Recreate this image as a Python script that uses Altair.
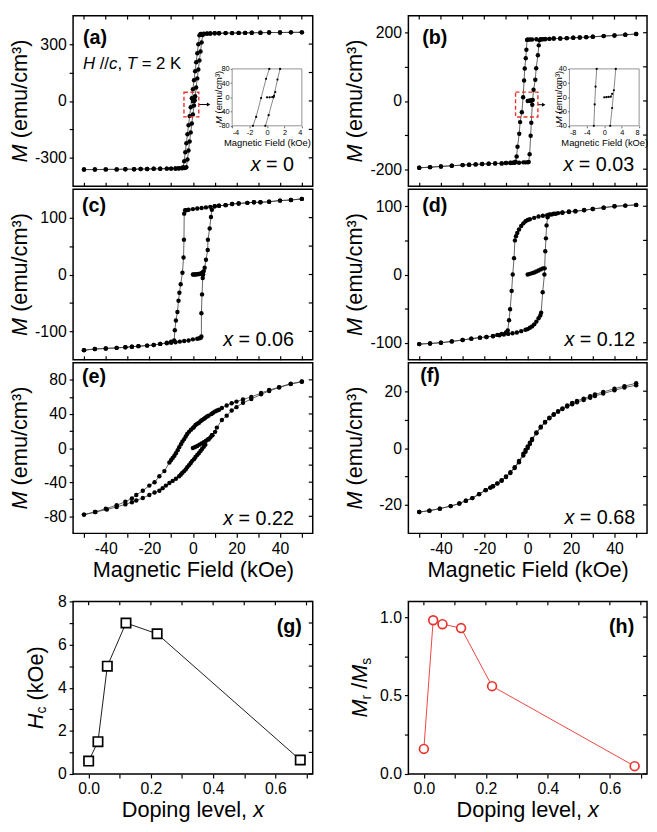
import altair as alt
import pandas as pd

FONT = "Liberation Sans"
BLACK = "#000000"
RED = "#e8322b"
LINE = "#3c3c3c"

# ---------------- (a) x = 0 ----------------
a_desc_H = [50, 45, 40, 35, 31, 27, 24, 21, 18, 15, 12, 10, 8, 6.5, 5, 4, 3.5, 3.0, 2.5, 2.0,
            1.5, 1.0, 0.5, 0.0, -0.5, -1.0, -1.5, -2.0, -2.5, -3.0, -3.5, -4.0, -4.5, -5, -6.5, -8,
            -10, -12, -15, -18, -21, -24, -27, -31, -35, -40, -45, -50]
a_desc_M = [362, 362, 361, 361, 360, 360, 359, 359, 358, 358, 357, 357, 356, 356, 355, 354, 353, 346, 299, 252,
            204, 157, 109, 62, 14, -33, -80, -128, -176, -223, -271, -318, -350, -354, -355, -356,
            -357, -357, -358, -358, -359, -359, -360, -360, -361, -361, -362, -362]
a_asc_H = [-50, -45, -40, -35, -31, -27, -24, -21, -18, -15, -12, -10, -8, -6.5, -5, -4, -3.5, -3.0, -2.5, -2.0,
           -1.5, -1.0, -0.5, 0.0, 0.5, 1.0, 1.5, 2.0, 2.5, 3.0, 3.5, 4.0, 4.5, 5, 6.5, 8,
           10, 12, 15, 18, 21, 24, 27, 31, 35, 40, 45, 50]
a_asc_M = [-362, -362, -361, -361, -360, -360, -359, -359, -358, -358, -357, -357, -356, -356, -355, -354, -353, -350, -309, -261,
           -214, -166, -119, -71, -24, 24, 71, 119, 166, 214, 261, 309, 348, 354, 355, 356,
           357, 357, 358, 358, 359, 359, 360, 360, 361, 361, 362, 362]
a_vir_H = [0, 0.2, 0.4, 0.6, 0.8, 1.0]
a_vir_M = [0, 0, 0.5, 1, 4, 24]
# inset (a)
ia_desc_H = [0.26, -0.11, -0.68, -1.25, -1.62]
ia_desc_M = [80, 52, -2, -55, -80]
ia_asc_H = [-0.19, 0.19, 0.75, 1.2, 1.5]
ia_asc_M = [-80, -50, 0, 50, 80]
ia_vir_H = [0, 0.3, 0.6, 0.8, 0.95]
ia_vir_M = [0, 0, 1, 4, 15]

# ---------------- (b) x = 0.03 ----------------
b_desc_H = [50, 45, 40, 35, 30, 27, 24, 21, 18, 15, 12, 10, 8, 6, 4, 2, 1, 0, -0.3, -0.6,
            -0.9, -1.36, -1.66, -2.1, -2.7, -3.5, -3.9, -4.7, -5.1, -5.6, -6, -7, -8, -10, -12, -15,
            -18, -21, -24, -27, -30, -35, -40, -45, -50]
b_desc_M = [196, 194, 192, 190, 188, 187, 186, 185, 184, 183, 183, 182, 182, 181, 181, 180, 180, 180, 179, 150,
            125, 95, 60, 11, -33, -62, -96, -134, -163, -178, -180, -181, -181, -182, -183, -183,
            -184, -185, -186, -187, -188, -190, -192, -194, -196]
b_asc_H = [-50, -45, -40, -35, -30, -27, -24, -21, -18, -15, -12, -10, -8, -6, -4, -2, -1, 0, 0.45, 0.9,
           1.36, 1.66, 2.1, 2.7, 3.5, 3.9, 4.7, 5.1, 5.4, 6, 7, 8, 10, 12, 15, 18,
           21, 24, 27, 30, 35, 40, 45, 50]
b_asc_M = [-196, -194, -192, -190, -188, -187, -186, -185, -184, -183, -183, -182, -182, -181, -181, -180, -180, -180, -179, -156,
           -102, -64, -11, 33, 62, 96, 134, 163, 178, 180, 181, 181, 182, 183, 183, 184,
           185, 186, 187, 188, 190, 192, 194, 196]
b_vir_H = [0, 0.4, 0.8, 1.2, 1.6, 2.0, 2.3]
b_vir_M = [0, 0.3, 0.6, 1, 1.5, 2, 3]
# inset (b)
ib_desc_H = [-1.74, -2.0, -2.2, -2.4]
ib_desc_M = [40, 15, -10, -40]
ib_asc_H = [1.36, 1.8, 2.2, 2.64]
ib_asc_M = [-40, -15, 10, 40]
ib_vir_H = [0, 0.5, 1.0, 1.5, 1.8]
ib_vir_M = [0, 0.3, 0.6, 1, 5]

# ---------------- (c) x = 0.06 ----------------
c_desc_H = [50, 45, 40, 35, 31, 28, 25, 21, 18, 15, 12, 10, 8, 6, 4, 2, 0, -2, -3, -3.6,
            -4.0, -4.1, -4.3, -4.8, -5.6, -6.2, -6.6, -7.1, -7.8, -8.3, -8.6, -10, -12, -15, -18, -21,
            -25, -28, -31, -35, -40, -45, -50]
c_desc_M = [133, 131, 130, 128, 127, 127, 126, 125, 124, 122, 121, 120, 119, 118, 117, 116, 115, 114, 113, 113,
            107, 61, 30, 3, -17, -32, -46, -66, -81, -98, -116, -118, -120, -122, -124, -125,
            -126, -127, -128, -129, -130, -131, -133]
c_asc_H = [-50, -45, -40, -35, -31, -28, -25, -21, -18, -15, -12, -10, -8, -6, -4, -2, 0, 2, 3, 3.6,
           3.9, 3.9, 4.2, 4.5, 4.7, 5.4, 6.0, 6.8, 6.9, 7.7, 8.3, 8.7, 10, 12, 15, 18,
           21, 25, 28, 31, 35, 40, 45, 50]
c_asc_M = [-133, -131, -130, -129, -128, -127, -126, -125, -124, -122, -121, -120, -119, -118, -117, -116, -114, -113, -112, -111,
           -109, -68, -35, -6, 0, 12, 26, 43, 61, 81, 101, 114, 120, 121, 122, 124,
           125, 126, 127, 127, 128, 130, 131, 133]
c_vir_H = [0, 0.5, 1, 1.5, 2, 2.5, 3, 3.5, 4, 4.5, 5.0]
c_vir_M = [0, 0, 0, 0.3, 0.5, 0.8, 1, 1.5, 2.5, 4, 6]

# ---------------- (d) x = 0.12 ----------------
d_desc_H = [50, 45, 40, 35, 30, 26, 22, 19, 16, 13, 11, 9, 7, 5, 3, 1, 0, -1, -2, -3,
            -4, -4.8, -5.4, -5.9, -6.3, -6.9, -7.4, -8.1, -8.6, -9.2, -10, -12, -14, -16, -19, -22,
            -26, -30, -35, -40, -45, -50]
d_desc_M = [102, 101, 100, 98, 96, 94, 92.5, 91.5, 90.5, 89, 88, 87, 86, 85, 83, 81, 80, 78, 75, 71,
            66, 61, 56, 50, 24, 0, -24, -51, -67, -82, -85, -87, -88.5, -90, -91.5, -92.5,
            -94, -96, -98, -100, -101, -102]
d_asc_H = [-50, -45, -40, -35, -30, -26, -22, -19, -16, -13, -11, -9, -7, -5, -3, -1, 0, 1, 2, 3,
           4, 5, 5.8, 6.2, 6.9, 7.7, 8.1, 8.4, 8.7, 9.2, 10, 12, 14, 16, 19, 22,
           26, 30, 35, 40, 45, 50]
d_asc_M = [-102, -101, -100, -98, -96, -94, -92.5, -91.5, -90.5, -89, -88, -87, -86, -85, -83, -81, -80, -78, -76, -73,
           -69, -64, -60, -56, -26, 0, 34, 53, 72, 84, 88, 89, 90, 91, 92.5, 93,
           94.5, 96, 98, 100, 101, 102]
d_vir_H = [0, 1, 2, 3, 4, 5, 6, 7, 7.8]
d_vir_M = [0, 1, 2, 3, 4.5, 6, 7.5, 9, 9]

# ---------------- (e) x = 0.22 ----------------
e_desc_H = [50, 44.9, 39.6, 35, 31.3, 26.8, 23, 20, 17.8, 15.5, 13.3, 12, 11.1, 10.2, 9.3, 8.5, 7.2, 6.5, 5.7, 5.0,
            4.2, 3.5, 2.7, 2.0, 1.2, 0.6, 0, -0.9, -1.8, -2.6, -3.3, -4.0, -4.8, -5.5, -6.3, -7.0,
            -7.8, -8.5, -9.3, -10.0, -10.8, -13.1, -15.4, -17.6, -20, -23, -26, -28, -31, -35, -40, -45, -50]
e_desc_M = [78, 75.5, 71.5, 68, 64.5, 60, 57, 54.5, 52.5, 50, 47, 45, 44, 43, 41.5, 40, 38, 37, 35.5, 34,
            33, 31.5, 29.5, 28.5, 27, 25, 23.5, 21.5, 19, 16.5, 13.5, 10.5, 7.7, 4.5, 1, -2.5,
            -6, -9, -11.5, -14, -17, -27, -33, -40, -44, -50, -55, -59, -63, -67, -71, -75, -78]
e_asc_H = [-50, -44.7, -39.5, -35, -31, -28, -26, -23, -20, -17.6, -15.4, -13.9, -12.4, -10.8, -9.3, -7.8, -6.3, -5.5, -4.8, -4.0,
           -3.3, -2.6, -1.8, -1.0, -0.3, 0.5, 1.2, 2.0, 2.7, 3.5, 4.2, 5.0, 5.7, 7.2, 8.7, 11,
           13.3, 15.5, 17.8, 20, 23, 26.8, 31.3, 35, 39.6, 44.9, 50]
e_asc_M = [-78, -75, -72, -69, -66, -63.5, -61.5, -58.5, -55, -52, -50, -47, -44, -41, -38.5, -36, -33, -31, -29, -27,
           -25, -22.5, -20, -17.5, -15, -13, -10.5, -8, -6, -3.5, -1, 1.5, 4, 10, 15, 24,
           33, 38, 44, 48, 53, 57.5, 63, 67, 71, 75, 77.7]
e_vir_H = [0, 1, 2, 3, 4, 5, 6, 7, 8, 9, 10.2]
e_vir_M = [0, 1.2, 2.5, 4, 5.5, 7, 8.7, 10.5, 12.5, 15, 19]

# ---------------- (f) x = 0.68 ----------------
f_desc_H = [50, 44.6, 40, 34.8, 31, 28.8, 25.8, 22.7, 20.5, 18.2, 16, 14, 12, 10, 8, 6, 4, 2, 1, 0,
            -1, -2, -4, -6, -8, -10, -12, -14, -16, -17.2, -19.4, -22.4, -25.5, -28.5, -31.5, -35.5,
            -40.5, -45.3, -50]
f_desc_M = [22.8, 21.8, 20.9, 19.7, 18.9, 18.2, 17.4, 16.6, 15.9, 15.0, 13.9, 13.0, 11.9, 10.7, 9.2, 7.5, 5.5, 3.2, 1.9, 0.6,
            -0.7, -2.0, -4.5, -6.7, -8.5, -10.0, -11.3, -12.4, -13.4, -13.9, -14.8, -16.2, -17.6, -18.5, -19.5, -20.4,
            -21.3, -22.0, -22.5]
f_asc_H = [-50, -45.3, -40.5, -35.5, -31.5, -28.5, -25.5, -22.4, -19.4, -17.2, -16, -14, -12, -10, -8, -6, -4, -2, -1, 0,
           1, 2, 4, 6, 8, 10, 12, 14, 16, 18.2, 20.5, 22.7, 25.8, 28.8, 31, 34.8, 40, 44.6, 50]
f_asc_M = [-22.5, -22.0, -21.3, -20.4, -19.5, -18.5, -17.6, -16.2, -14.8, -13.9, -13.4, -12.5, -11.5, -10.2, -8.8, -7.0, -5.0, -2.6, -1.3, 0.0,
           1.4, 2.8, 5.2, 7.2, 9.0, 10.5, 11.7, 12.8, 13.7, 14.6, 15.4, 16.1, 16.9, 17.7, 18.3, 19.2, 20.3, 21.3, 22.1]

# ---------------- (g), (h) ----------------
doping = [0.0, 0.03, 0.06, 0.12, 0.22, 0.68]
hc_koe = [0.6, 1.5, 5.0, 7.0, 6.5, 0.65]
mr_ms = [0.16, 0.98, 0.955, 0.93, 0.56, 0.05]

# ---------------- layout constants ----------------
WL, WR = 243, 242
HP, HB = 173, 175
CS = 29            # column spacing
GAP_BELOW_EF = 58  # room under panels (e)/(f) before (g)/(h)
TICK = 4

CW = {' ': 278, '(': 333, ')': 333, '/': 278, '.': 278, ',': 278, '=': 584, '-': 333,
      '\u00b3': 333, 'M': 833, 'H': 722, 'T': 611, 'K': 667, 'O': 778, 'D': 722,
      'a': 556, 'b': 556, 'c': 500, 'd': 556, 'e': 556, 'f': 278, 'g': 556, 'i': 222,
      'k': 500, 'l': 222, 'm': 833, 'n': 556, 'o': 556, 'p': 556, 'r': 333, 's': 500,
      't': 278, 'u': 556, 'v': 500, 'x': 500}


def tw(s, size):
    return sum(CW.get(ch, 556) for ch in s) * size / 1000.0


ONE = pd.DataFrame({"k": [0]})


def label(s, x, y, size, italic=False, bold=False, align="left", baseline="middle", angle=None, color=BLACK):
    kw = dict(text=s, font=FONT, fontSize=size, align=align, baseline=baseline, color=color)
    if italic:
        kw["fontStyle"] = "italic"
    if bold:
        kw["fontWeight"] = "bold"
    if angle is not None:
        kw["angle"] = angle
    return alt.Chart(ONE).mark_text(**kw).encode(x=alt.value(x), y=alt.value(y))


def run_h(parts, x0, y, baseline="middle"):
    out = []
    x = x0
    for s, size, it, dy in parts:
        lead = len(s) - len(s.lstrip(" "))
        x += lead * tw(" ", size)
        core = s.strip(" ")
        out.append(label(core, x, y + dy, size, italic=it, baseline=baseline))
        x += tw(core, size)
    return out


def run_width(parts):
    return sum(tw(p[0], p[1]) for p in parts)


def run_v(parts, xb, yc):
    y = yc + run_width(parts) / 2.0
    out = []
    for s, size, it, dx in parts:
        lead = len(s) - len(s.lstrip(" "))
        y -= lead * tw(" ", size)
        core = s.strip(" ")
        out.append(label(core, xb + dx, y, size, italic=it, baseline="alphabetic", angle=270))
        y -= tw(core, size)
    return out


def num_expr(step):
    return ("datum.value % " + str(step) + " == 0 ? (datum.value < 0 ? '-' : '') + abs(datum.value) : ''")


def frame_df(branches):
    rows = []
    for name, hs, ms in branches:
        for i, (h, m) in enumerate(zip(hs, ms)):
            rows.append({"H": h, "M": m, "b": name, "i": i})
    return pd.DataFrame(rows)


def mirror_ticks(xfield, yfield, xs, ys, xax, yax, xvals, yvals, width, top=True):
    """Inward ticks on the right (and top) edge, placed through the panel scales."""
    out = [alt.Chart(pd.DataFrame({yfield: yvals})).mark_rule(color=BLACK, strokeWidth=1.2).encode(
        y=alt.Y(yfield + ":Q", scale=ys, axis=yax), x=alt.value(width - TICK), x2=alt.value(width))]
    if top:
        out.append(alt.Chart(pd.DataFrame({xfield: xvals})).mark_rule(color=BLACK, strokeWidth=1.2).encode(
            x=alt.X(xfield + ":Q", scale=xs, axis=xax), y=alt.value(0), y2=alt.value(TICK)))
    return out


XV = list(range(-50, 51, 10))
YT_MAIN = [("M", 22, True, 0), (" (emu/cm\u00b3)", 22, False, 0)]


def inset(branches, xdom, ydom, xvals, yvals, xr, yr, title_x):
    df = frame_df(branches)
    xs = alt.Scale(domain=xdom, range=xr, nice=False, zero=False)
    ys = alt.Scale(domain=ydom, range=yr, nice=False, zero=False)
    xax = alt.Axis(orient="bottom", offset=yr[0] - HP, values=xvals, tickSize=2, tickWidth=0.6,
                   labelFontSize=7.5, labelPadding=1, domain=False, minExtent=0,
                   labelExpr="(datum.value < 0 ? '-' : '') + abs(datum.value)",
                   title="Magnetic Field (kOe)", titleFontSize=9.5, titleFontWeight="normal", titlePadding=1)
    yax = alt.Axis(orient="left", offset=-xr[0], values=yvals, tickSize=2, tickWidth=0.6,
                   labelFontSize=7.5, labelPadding=1, domain=False, minExtent=0,
                   labelExpr="(datum.value < 0 ? '-' : '') + abs(datum.value)", title=None)
    box = pd.DataFrame({"x0": [xdom[0]], "x1": [xdom[1]], "y0": [ydom[0]], "y1": [ydom[1]]})
    rect = alt.Chart(box).mark_rect(fill="white", stroke="#777777", strokeWidth=0.8).encode(
        x=alt.X("x0:Q", scale=xs, axis=xax), x2="x1:Q",
        y=alt.Y("y0:Q", scale=ys, axis=yax), y2="y1:Q")
    x = alt.X("H:Q", scale=xs, axis=xax)
    y = alt.Y("M:Q", scale=ys, axis=yax)
    lines = alt.Chart(df).mark_line(color="#555555", strokeWidth=0.7).encode(x=x, y=y, detail="b:N", order="i:Q")
    pts = alt.Chart(df).mark_circle(size=5, color=BLACK, opacity=1).encode(x=x, y=y)
    title = run_v([("M", 9.5, True, 0), (" (emu/cm\u00b3)", 9.5, False, 0)], title_x, (yr[0] + yr[1]) / 2.0)
    return alt.layer(rect, lines, pts, *title)


def loop_panel(branches, ydom, yvals, ystep, width, bottom, tag, tag_xy, xval, xval_xy,
               top_ticks=False, extras=None, inset_chart=None, notes=None):
    df = frame_df(branches)
    xs = alt.Scale(domain=[-55, 55], nice=False, zero=False)
    ys = alt.Scale(domain=ydom, nice=False, zero=False)
    if bottom:
        xax = alt.Axis(orient="bottom", values=XV, labelExpr=num_expr(20), tickSize=TICK, labelPadding=3,
                       domain=False, title="Magnetic Field (kOe)", titleFontSize=22,
                       titleFontWeight="normal", titlePadding=4, labelFontSize=16)
    else:
        xax = alt.Axis(orient="bottom", values=XV, labels=False, tickSize=TICK, offset=-TICK, domain=False,
                       title=None, minExtent=0)
    yax = alt.Axis(orient="left", values=yvals, labelExpr=num_expr(ystep), tickSize=TICK, labelPadding=3,
                   domain=False, title=None, labelFontSize=16)
    x = alt.X("H:Q", scale=xs, axis=xax)
    y = alt.Y("M:Q", scale=ys, axis=yax)
    base = alt.Chart(df)
    lines = base.mark_line(color=LINE, strokeWidth=0.8).encode(x=x, y=y, detail="b:N", order="i:Q")
    pts = base.mark_circle(size=20, color=BLACK, opacity=1).encode(x=x, y=y)
    layers = [lines, pts]
    layers += mirror_ticks("H", "M", xs, ys, xax, yax, XV, yvals, width, top=top_ticks)
    if extras:
        for ex in extras:
            layers.append(ex(xs, ys, xax, yax))
    layers.append(label(tag, tag_xy[0], tag_xy[1], 20, bold=True))
    xparts = [("x", 20, True, 0), (" = " + xval, 20, False, 0)]
    layers += run_h(xparts, xval_xy[0] - run_width(xparts), xval_xy[1])
    layers += run_v(YT_MAIN, -47, HP / 2.0)
    if notes:
        layers += notes
    if bottom:
        # invisible 1px rule that reserves room between this row and the (g)/(h) row
        layers.append(alt.Chart(ONE).mark_rule(color="white", strokeWidth=1).encode(
            x=alt.value(1), y=alt.value(HP + GAP_BELOW_EF - 1), y2=alt.value(HP + GAP_BELOW_EF)))
    main = alt.layer(*layers)
    if inset_chart is not None:
        return alt.layer(main, inset_chart).resolve_scale(x="independent", y="independent").properties(
            width=width, height=HP)
    return main.properties(width=width, height=HP)


def red_box(x0, x1, y0, y1, ay, ax0, ax1):
    def make(xs, ys, xax, yax):
        box = pd.DataFrame({"x0": [x0], "x1": [x1], "y0": [y0], "y1": [y1]})
        rect = alt.Chart(box).mark_rect(fillOpacity=0, stroke=RED, strokeWidth=1.4, strokeDash=[4, 2.5]).encode(
            x=alt.X("x0:Q", scale=xs, axis=xax), x2="x1:Q", y=alt.Y("y0:Q", scale=ys, axis=yax), y2="y1:Q")
        arr = pd.DataFrame({"x0": [ax0], "x1": [ax1], "y0": [ay]})
        rule = alt.Chart(arr).mark_rule(color=BLACK, strokeWidth=1).encode(
            x=alt.X("x0:Q", scale=xs, axis=xax), x2="x1:Q", y=alt.Y("y0:Q", scale=ys, axis=yax))
        head = alt.Chart(arr).mark_point(shape="triangle-right", size=16, filled=True, color=BLACK, opacity=1).encode(
            x=alt.X("x1:Q", scale=xs, axis=xax), y=alt.Y("y0:Q", scale=ys, axis=yax))
        return alt.layer(rect, rule, head)
    return make


# field / temperature note in (a)
HT = [("H", 17, True, 0), (" //", 17, False, 0), ("c", 17, True, 0), (",", 17, False, 0),
      (" T", 17, True, 0), (" = 2 K", 17, False, 0)]

# ---------------- panels ----------------
ins_a = inset([("d", ia_desc_H, ia_desc_M), ("a", ia_asc_H, ia_asc_M), ("v", ia_vir_H, ia_vir_M)],
              [-4, 4], [-80, 80], [-4, -2, 0, 2, 4], [-80, -40, 0, 40, 80],
              [161.3, 232], [111.7, 54], 151.5)
ins_b = inset([("d", ib_desc_H, ib_desc_M), ("a", ib_asc_H, ib_asc_M), ("v", ib_vir_H, ib_vir_M)],
              [-8, 8], [-40, 40], [-8, -4, 0, 4, 8], [-40, -20, 0, 20, 40],
              [163.3, 234], [111.7, 54], 156)

pa = loop_panel([("d", a_desc_H, a_desc_M), ("a", a_asc_H, a_asc_M), ("v", a_vir_H, a_vir_M)],
                [-450, 450], [-300, -150, 0, 150, 300], 300, WL, False, "(a)", (10, 23), "0", (224, 152),
                top_ticks=True, extras=[red_box(-4.1, 2.7, -84, 46, -19, 2.9, 7.2)], inset_chart=ins_a,
                notes=run_h(HT, 10, 49))
pb = loop_panel([("d", b_desc_H, b_desc_M), ("a", b_asc_H, b_asc_M), ("v", b_vir_H, b_vir_M)],
                [-250, 250], [-200, -100, 0, 100, 200], 200, WR, False, "(b)", (14, 23), "0.03", (229, 152),
                top_ticks=True, extras=[red_box(-5.6, 4.7, -47, 26, -11, 4.9, 7.4)], inset_chart=ins_b)
pc = loop_panel([("d", c_desc_H, c_desc_M), ("a", c_asc_H, c_asc_M), ("v", c_vir_H, c_vir_M)],
                [-150, 150], [-100, -50, 0, 50, 100], 100, WL, False, "(c)", (9, 17), "0.06", (224, 153))
pd_ = loop_panel([("d", d_desc_H, d_desc_M), ("a", d_asc_H, d_asc_M), ("v", d_vir_H, d_vir_M)],
                 [-125, 125], [-100, -50, 0, 50, 100], 100, WR, False, "(d)", (14, 17), "0.12", (230, 153))
pe = loop_panel([("d", e_desc_H, e_desc_M), ("a", e_asc_H, e_asc_M), ("v", e_vir_H, e_vir_M)],
                [-100, 100], [-80, -60, -40, -20, 0, 20, 40, 60, 80], 40, WL, True, "(e)", (9, 15), "0.22", (224, 158))
pf = loop_panel([("d", f_desc_H, f_desc_M), ("a", f_asc_H, f_asc_M)],
                [-30, 30], [-20, -10, 0, 10, 20], 20, WR, True, "(f)", (12, 14), "0.68", (230, 157))

XD = [0, 0.1, 0.2, 0.3, 0.4, 0.5, 0.6, 0.7]


def summary(yv, ydom, yvals, ylab_expr, color, shape, size, tag, tag_x, width, ytitle, tbx):
    df = pd.DataFrame({"x": doping, "y": yv, "i": list(range(len(doping)))})
    xs = alt.Scale(domain=[-0.05, 0.72], nice=False, zero=False)
    ys = alt.Scale(domain=ydom, nice=False, zero=False)
    xax = alt.Axis(orient="bottom", values=XD,
                   labelExpr="round(datum.value*10) % 2 == 0 ? format(datum.value, '.1f') : ''",
                   tickSize=TICK, labelPadding=3, domain=False, title=None, labelFontSize=16)
    yax = alt.Axis(orient="left", values=yvals, labelExpr=ylab_expr, tickSize=TICK, labelPadding=3,
                   domain=False, title=None, labelFontSize=16)
    x = alt.X("x:Q", scale=xs, axis=xax)
    y = alt.Y("y:Q", scale=ys, axis=yax)
    base = alt.Chart(df)
    line = base.mark_line(color=color, strokeWidth=0.9).encode(x=x, y=y, order="i:Q")
    pts = base.mark_point(shape=shape, size=size, filled=True, fill="white", stroke=color,
                          strokeWidth=1.7, opacity=1).encode(x=x, y=y)
    layers = [line, pts]
    layers += mirror_ticks("x", "y", xs, ys, xax, yax, XD, yvals, width, top=True)
    layers.append(label(tag, tag_x, 26, 20, bold=True, align="right"))
    layers += run_v(ytitle, tbx, HB / 2.0)
    xt = [("Doping level,", 22, False, 0), (" x", 22, True, 0)]
    layers += run_h(xt, width / 2.0 - run_width(xt) / 2.0, 219, baseline="alphabetic")
    return alt.layer(*layers).properties(width=width, height=HB)


pg = summary(hc_koe, [0, 8], list(range(0, 9)), "datum.value % 2 == 0 ? '' + datum.value : ''",
             BLACK, "square", 90, "(g)", 232, WL,
             [("H", 22, True, 0), ("c", 14, False, 4), (" (kOe)", 22, False, 0)], -31)
ph = summary(mr_ms, [0, 1.1], [0, 0.25, 0.5, 0.75, 1.0],
             "round(datum.value*100) % 50 == 0 ? format(datum.value, '.1f') : ''",
             RED, "circle", 80, "(h)", 229, WR,
             [("M", 22, True, 0), ("r", 14, False, 4), (" /", 22, False, 0), ("M", 22, True, 0), ("s", 14, False, 4)],
             -42)

chart = alt.concat(pa, pb, pc, pd_, pe, pf, pg, ph, columns=2, spacing={"row": 0, "column": CS},
                   align="each", padding=0).configure_view(stroke=BLACK, strokeWidth=1.5).configure_axis(
    labelFont=FONT, titleFont=FONT, labelColor=BLACK, titleColor=BLACK, tickColor=BLACK,
    tickWidth=1.2, grid=False).configure_text(font=FONT)

chart.save("out.html", embed_options={"renderer": "svg", "actions": False})
